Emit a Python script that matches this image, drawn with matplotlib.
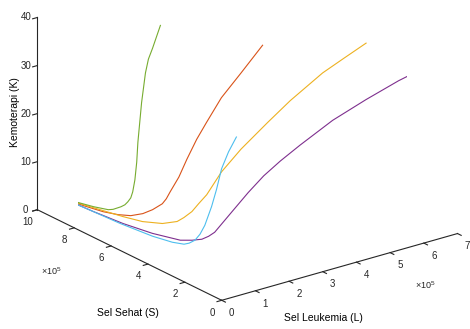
import matplotlib
matplotlib.use("Agg")
import matplotlib.pyplot as plt
from mpl_toolkits.mplot3d import proj3d

plt.rcParams['font.family'] = ['Liberation Sans', 'DejaVu Sans']
plt.rcParams['mathtext.fontset'] = 'custom'
plt.rcParams['mathtext.rm'] = 'Liberation Sans'

# trajectories (L, S in units of 1e5 cells, K chemotherapy)
green_L = [0.00, 0.42, 0.83, 1.23, 1.35, 1.55, 1.64, 1.70, 1.76, 1.79, 1.80, 1.80, 1.78, 1.78, 1.78,
           1.81, 1.84, 1.89, 1.97, 2.12]
green_S = [8.56, 8.52, 8.47, 8.40, 8.36, 8.30, 8.25, 8.20, 8.15, 8.10, 8.00, 7.90, 7.80, 7.70, 7.60,
           7.55, 7.50, 7.43, 7.35, 7.20]
green_K = [5.00, 3.42, 1.87, 0.58, 0.49, 0.74, 1.07, 1.66, 2.46, 3.73, 6.39, 10.28, 14.64, 18.95, 23.26,
           26.38, 29.51, 32.43, 34.70, 39.42]

red_L = [0.00, 0.49, 0.94, 1.23, 1.46, 1.68, 1.86, 2.04, 2.12, 2.19, 2.34, 2.47, 2.65, 2.83, 3.11, 3.53, 3.95]
red_S = [8.56, 8.38, 8.15, 7.87, 7.60, 7.35, 7.15, 6.95, 6.88, 6.80, 6.60, 6.40, 6.20, 6.00, 5.70, 5.40, 5.00]
red_K = [5.00, 2.92, 1.21, 0.55, 0.39, 0.85, 1.69, 2.94, 3.95, 5.40, 8.56, 12.41, 16.55, 20.06, 25.24, 30.13, 35.81]

yellow_L = [0.00, 0.65, 1.23, 1.48, 1.77, 1.96, 2.05, 2.18, 2.27, 2.40, 2.62, 2.98, 3.50, 3.95, 4.61, 5.03, 5.49]
yellow_S = [8.56, 8.15, 7.60, 7.00, 6.45, 6.00, 5.80, 5.60, 5.40, 5.20, 4.80, 4.40, 3.90, 3.50, 2.95, 2.55, 2.20]
yellow_K = [5.00, 2.62, 0.65, 0.25, 0.31, 1.20, 2.21, 3.58, 5.42, 7.40, 12.47, 17.24, 22.72, 27.11, 32.60, 35.61, 38.47]

purple_L = [0.00, 0.49, 0.90, 1.20, 1.48, 1.61, 1.71, 1.80, 1.87, 2.12, 2.40, 2.67, 3.00, 3.42, 4.17, 4.97,
            5.77, 6.33]
purple_S = [8.56, 7.85, 7.00, 5.95, 4.95, 4.55, 4.20, 4.00, 3.80, 3.35, 2.95, 2.60, 2.30, 2.00, 1.60, 1.25,
            0.95, 0.80]
purple_K = [5.00, 2.69, 1.00, 0.33, 0.24, 0.73, 1.40, 2.21, 3.28, 7.76, 12.09, 15.70, 18.70, 21.73, 26.16, 29.55,
            32.44, 33.87]

cyan_L = [0.00, 0.34, 0.76, 1.07, 1.27, 1.41, 1.48, 1.56, 1.61, 1.66, 1.67, 1.65, 1.61, 1.57, 1.53]
cyan_S = [8.56, 7.95, 6.90, 5.70, 5.00, 4.62, 4.47, 4.30, 4.12, 3.95, 3.60, 3.30, 2.95, 2.50, 2.00]
cyan_K = [5.00, 3.41, 1.48, 0.46, 0.14, 0.17, 0.53, 1.31, 2.79, 4.86, 9.42, 13.53, 18.61, 23.05, 27.17]

L_ticks = [0, 1, 2, 3, 4, 5, 6, 7]
S_ticks = [0, 2, 4, 6, 8, 10]
K_ticks = [0, 10, 20, 30, 40]

fig = plt.figure(figsize=(4.7, 3.29), dpi=100)
ax = fig.add_axes([0.017, 0.105, 1, 1], projection='3d')
ax.set_proj_type('ortho')
ax.view_init(elev=21.9, azim=-127.2)

ax.plot(red_L, red_S, red_K, color='#D95319', lw=0.8)
ax.plot(yellow_L, yellow_S, yellow_K, color='#EDB120', lw=0.8)
ax.plot(purple_L, purple_S, purple_K, color='#7E2F8E', lw=0.8)
ax.plot(green_L, green_S, green_K, color='#77AC30', lw=0.8)
ax.plot(cyan_L, cyan_S, cyan_K, color='#4DBEEE', lw=0.8)

ax.set_xlim(0, 7)
ax.set_ylim(0, 10)
ax.set_zlim(0, 40)
ax.set_box_aspect((1, 1.03, 0.70), zoom=1.395)
ax.set_xticks(L_ticks)
ax.set_yticks(S_ticks)
ax.set_zticks(K_ticks)
ax.grid(False)
for axis in (ax.xaxis, ax.yaxis, ax.zaxis):
    axis.pane.fill = False
    axis.pane.set_edgecolor((1, 1, 1, 0))
    axis.line.set_color('#262626')
    axis.line.set_linewidth(0.8)
    axis.label.set_visible(False)
    axis.set_tick_params(labelbottom=False, labelleft=False)
    axis._axinfo['tick']['inward_factor'] = 0.25
    axis._axinfo['tick']['outward_factor'] = 0.0
ax.tick_params(colors='#262626', width=0.8)

# tick labels, MATLAB style (upright, next to the axis lines);
# projected once so they sit as plain 2D texts
fig.canvas.draw()
M = ax.get_proj()
txt = dict(fontsize=7, color='#262626', ha='center', va='center', transform=ax.transData)


def tick_label(x, y, z, s):
    px, py, _ = proj3d.proj_transform(x, y, z, M)
    ax.text2D(px, py, s, **txt)


for v in L_ticks:
    tick_label(v - 0.30, -1.09, 0, str(v))
for v in S_ticks:
    tick_label(-0.655, v - 0.667, 0, str(v))
for v in K_ticks:
    tick_label(-0.22, 10.23, v, str(v))

fig.text(0.032, 0.66, 'Kemoterapi (K)', rotation=90, fontsize=7.5, ha='center', va='center')
fig.text(0.689, 0.033, 'Sel Leukemia (L)', fontsize=7.5, ha='center', va='center')
fig.text(0.272, 0.049, 'Sel Sehat (S)', fontsize=7.5, ha='center', va='center')
fig.text(0.904, 0.134, r'$\times10^5$', fontsize=6.5, color='#262626', ha='center', va='center')
fig.text(0.109, 0.176, r'$\times10^5$', fontsize=6.5, color='#262626', ha='center', va='center')

fig.savefig('out.png', dpi=100)
